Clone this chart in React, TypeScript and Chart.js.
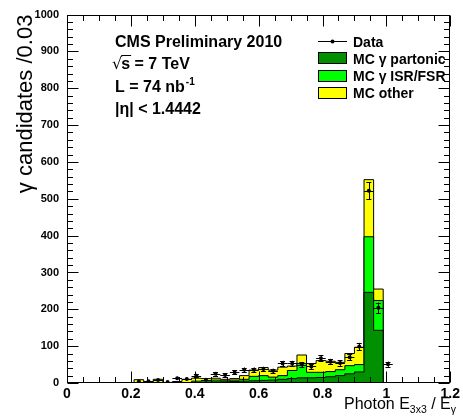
import React, { useEffect, useRef } from 'react';
import { Chart, registerables } from 'chart.js';

Chart.register(...registerables);

const FONT = '"Liberation Sans", Arial, Helvetica, sans-serif';

// Histogram binning (bin width 0.03)
const binWidth = 0.03;
const binStarts = [0.21, 0.24, 0.27, 0.30, 0.33, 0.36, 0.39, 0.42, 0.45, 0.48, 0.51, 0.54, 0.57, 0.60, 0.63, 0.66, 0.69, 0.72, 0.75, 0.78, 0.81, 0.84, 0.87, 0.90, 0.93, 0.96, 0.99];

// MC components (per bin)
const mcPartonic = [0, 0, 0, 0, 0, 0, 1, 2, 3, 3, 4, 5, 6, 7, 8, 10, 12, 14, 14, 15, 17, 20, 25, 30, 246, 143, 0];
const mcIsrFsr = [0, 0, 0, 0, 0, 0, 4, 4, 5, 3, 4, 5, 12, 13, 8, 10, 22, 39, 15, 14, 14, 16, 22, 20, 151, 81, 0];
const mcOther = [9, 3, 10, 1, 4, 10, 8, 6, 5, 4, 4, 10, 17, 22, 19, 23, 12, 23, 24, 32, 28, 20, 33, 47, 155, 31, 0];

// Data counts (per bin)
const dataCounts = [4, 5, 8, 3, 13, 11, 20, 9, 25, 22, 29, 36, 36, 38, 33, 53, 53, 50, 45, 67, 58, 54, 70, 99, 522, 204, 51];

// Axes
const xMin = 0, xMax = 1.2, xStep = 0.2, xMinorStep = 0.05;
const yMin = 0, yMax = 1000, yStep = 100, yMinorStep = 20;

const legendLabels = ['Data', 'MC \u03b3 partonic', 'MC \u03b3 ISR/FSR', 'MC other'];
const colPartonic = '#009000';
const colIsr = '#00ff00';
const colOther = '#ffff00';

function stepPoints(vals: number[]) {
  const pts = [{ x: binStarts[0], y: 0 }];
  vals.forEach((v, i) => pts.push({ x: binStarts[i], y: v }));
  pts.push({ x: binStarts[binStarts.length - 1] + binWidth, y: 0 });
  return pts;
}

const level1 = mcPartonic.slice();
const level2 = mcPartonic.map((v, i) => v + mcIsrFsr[i]);
const level3 = level2.map((v, i) => v + mcOther[i]);

const DATA_INDEX = 3;

const errorBarPlugin = {
  id: 'errorBars',
  beforeDatasetDraw(chart: any, args: any) {
    if (args.index !== DATA_INDEX) return;
    const ctx = chart.ctx;
    const xs = chart.scales.x, ys = chart.scales.y;
    ctx.save();
    ctx.strokeStyle = '#000';
    ctx.lineWidth = 1;
    dataCounts.forEach((n, i) => {
      const cx = binStarts[i] + binWidth / 2;
      const px = xs.getPixelForValue(cx);
      const py = ys.getPixelForValue(n);
      const x0 = xs.getPixelForValue(cx - binWidth / 2);
      const x1 = xs.getPixelForValue(cx + binWidth / 2);
      const e = Math.sqrt(n);
      const yT = ys.getPixelForValue(n + e);
      const yB = ys.getPixelForValue(Math.max(0, n - e));
      ctx.beginPath();
      ctx.moveTo(x0, Math.round(py) + 0.5);
      ctx.lineTo(x1, Math.round(py) + 0.5);
      ctx.moveTo(Math.round(px) + 0.5, yT);
      ctx.lineTo(Math.round(px) + 0.5, yB);
      if (yB - yT > 3) {
        ctx.moveTo(px - 2.5, Math.round(yT) + 0.5);
        ctx.lineTo(px + 2.5, Math.round(yT) + 0.5);
        ctx.moveTo(px - 2.5, Math.round(yB) + 0.5);
        ctx.lineTo(px + 2.5, Math.round(yB) + 0.5);
      }
      ctx.stroke();
    });
    ctx.restore();
  },
};

const decorPlugin = {
  id: 'decor',
  afterDraw(chart: any) {
    const ctx = chart.ctx;
    const { left, right, top, bottom } = chart.chartArea;
    const xs = chart.scales.x, ys = chart.scales.y;
    ctx.save();
    ctx.strokeStyle = '#000';
    ctx.lineWidth = 1;
    // frame
    const L = Math.round(left) + 0.5, R = Math.round(right) - 0.5;
    const T = Math.round(top) + 0.5, B = Math.round(bottom) - 0.5;
    ctx.strokeRect(L, T, R - L, B - T);
    // ticks
    ctx.beginPath();
    const nx = Math.round((xMax - xMin) / xMinorStep);
    for (let k = 0; k <= nx; k++) {
      const v = xMin + k * xMinorStep;
      const major = k % Math.round(xStep / xMinorStep) === 0;
      const len = major ? 11 : 5.5;
      const p = Math.round(xs.getPixelForValue(v)) + 0.5;
      ctx.moveTo(p, B); ctx.lineTo(p, B - len);
      ctx.moveTo(p, T); ctx.lineTo(p, T + len);
    }
    const ny = Math.round((yMax - yMin) / yMinorStep);
    for (let k = 0; k <= ny; k++) {
      const v = yMin + k * yMinorStep;
      const major = k % Math.round(yStep / yMinorStep) === 0;
      const len = major ? 11 : 5.5;
      const p = Math.round(ys.getPixelForValue(v)) + 0.5;
      ctx.moveTo(L, p); ctx.lineTo(L + len, p);
      ctx.moveTo(R, p); ctx.lineTo(R - len, p);
    }
    ctx.stroke();

    // x axis title with subscripts
    ctx.fillStyle = '#000';
    ctx.textBaseline = 'alphabetic';
    const big = `16px ${FONT}`, small = `10.5px ${FONT}`;
    const parts: [string, string, number][] = [
      ['Photon E', big, 0], ['3x3', small, 4], [' / E', big, 0], ['\u03b3', small, 4],
    ];
    let total = 0;
    parts.forEach(([t, f]) => { ctx.font = f; total += ctx.measureText(t).width; });
    let cx = 456 - total;
    const base = 409;
    parts.forEach(([t, f, dy]) => {
      ctx.font = f; ctx.fillText(t, cx, base + dy); cx += ctx.measureText(t).width;
    });

    // Text block
    const bold16 = `bold 16px ${FONT}`;
    ctx.font = bold16;
    ctx.fillText('CMS Preliminary 2010', 115, 47);
    // sqrt(s)
    ctx.font = `16px "DejaVu Sans", ${FONT}`;
    const sq = '\u221a';
    ctx.fillText(sq, 112, 69);
    const sqW = ctx.measureText(sq).width;
    ctx.font = bold16;
    const sx = 112 + sqW - 1;
    ctx.fillText('s', sx, 69);
    const sW = ctx.measureText('s').width;
    ctx.beginPath();
    ctx.moveTo(sx, 55.5); ctx.lineTo(sx + sW + 1, 55.5);
    ctx.stroke();
    ctx.fillText(' = 7 TeV', sx + sW, 69);
    ctx.fillText('L = 74 nb', 115, 92);
    const lw = ctx.measureText('L = 74 nb').width;
    ctx.font = `bold 10px ${FONT}`;
    ctx.fillText('-1', 115 + lw + 1, 85);
    ctx.font = bold16;
    ctx.fillText('|\u03b7| < 1.4442', 115, 114);

    // Legend
    const lx = 318, lwid = 29, tx = 353;
    ctx.beginPath();
    ctx.moveTo(lx, 41.5); ctx.lineTo(lx + lwid, 41.5);
    ctx.stroke();
    ctx.beginPath();
    ctx.arc(lx + lwid / 2, 41.5, 2, 0, Math.PI * 2);
    ctx.fillStyle = '#000';
    ctx.fill();
    const boxes: [string, number][] = [[colPartonic, 52], [colIsr, 70], [colOther, 87]];
    boxes.forEach(([c, y]) => {
      ctx.fillStyle = c;
      ctx.fillRect(lx, y, lwid, 12);
      ctx.strokeRect(lx + 0.5, y + 0.5, lwid - 1, 11);
    });
    ctx.fillStyle = '#000';
    ctx.font = `bold 14px ${FONT}`;
    const bases = [47, 64, 81, 98];
    legendLabels.forEach((t, i) => ctx.fillText(t, tx, bases[i]));
    ctx.restore();
  },
};

export default function App() {
  const ref = useRef<HTMLCanvasElement | null>(null);
  useEffect(() => {
    document.body.style.margin = '0';
    const canvas = ref.current!;
    Chart.defaults.font.family = FONT;
    const histStyle = {
      stepped: 'before',
      fill: 'origin',
      borderColor: '#000',
      borderWidth: 1,
      pointRadius: 0,
    };
    const chart = new Chart(canvas, {
      type: 'line',
      data: {
        datasets: [
          { label: 'MC partonic', data: stepPoints(level1), backgroundColor: colPartonic, order: 1, ...histStyle },
          { label: 'MC ISR/FSR', data: stepPoints(level2), backgroundColor: colIsr, order: 2, ...histStyle },
          { label: 'MC other', data: stepPoints(level3), backgroundColor: colOther, order: 3, ...histStyle },
          {
            label: 'Data',
            data: dataCounts.map((n, i) => ({ x: binStarts[i] + binWidth / 2, y: n })),
            showLine: false,
            pointRadius: 2,
            pointBackgroundColor: '#000',
            pointBorderWidth: 0,
            borderColor: '#000',
            order: 0,
          },
        ],
      } as any,
      options: {
        animation: false,
        responsive: false,
        layout: { padding: { top: 13, right: 8, left: 0, bottom: 0 } },
        plugins: { legend: { display: false }, tooltip: { enabled: false } },
        scales: {
          x: {
            type: 'linear',
            min: xMin,
            max: xMax,
            grid: { display: false, drawTicks: false },
            border: { display: false },
            ticks: {
              stepSize: xStep,
              padding: 3,
              color: '#000',
              font: { size: 14, weight: 'bold', family: FONT },
              maxRotation: 0,
              callback: (v: number) => String(Math.round(v * 10) / 10),
            },
            afterFit: (s: any) => { s.height = 35; },
          },
          y: {
            type: 'linear',
            min: yMin,
            max: yMax,
            grid: { display: false, drawTicks: false },
            border: { display: false },
            ticks: {
              stepSize: yStep,
              padding: 8,
              color: '#000',
              font: { size: 11, weight: 'bold', family: FONT },
              callback: (v: number) => String(Math.round(v)),
            },
            title: {
              display: true,
              text: '\u03b3 candidates /0.03',
              align: 'end',
              color: '#000',
              font: { size: 22, weight: 'normal', family: FONT },
              padding: { top: 13, bottom: 0 },
            },
            afterFit: (s: any) => { s.width = 67; },
          },
        },
      } as any,
      plugins: [errorBarPlugin, decorPlugin],
    });
    return () => chart.destroy();
  }, []);
  return (
    <canvas ref={ref} width={463} height={418} style={{ display: 'block', width: 463, height: 418 }} />
  );
}
